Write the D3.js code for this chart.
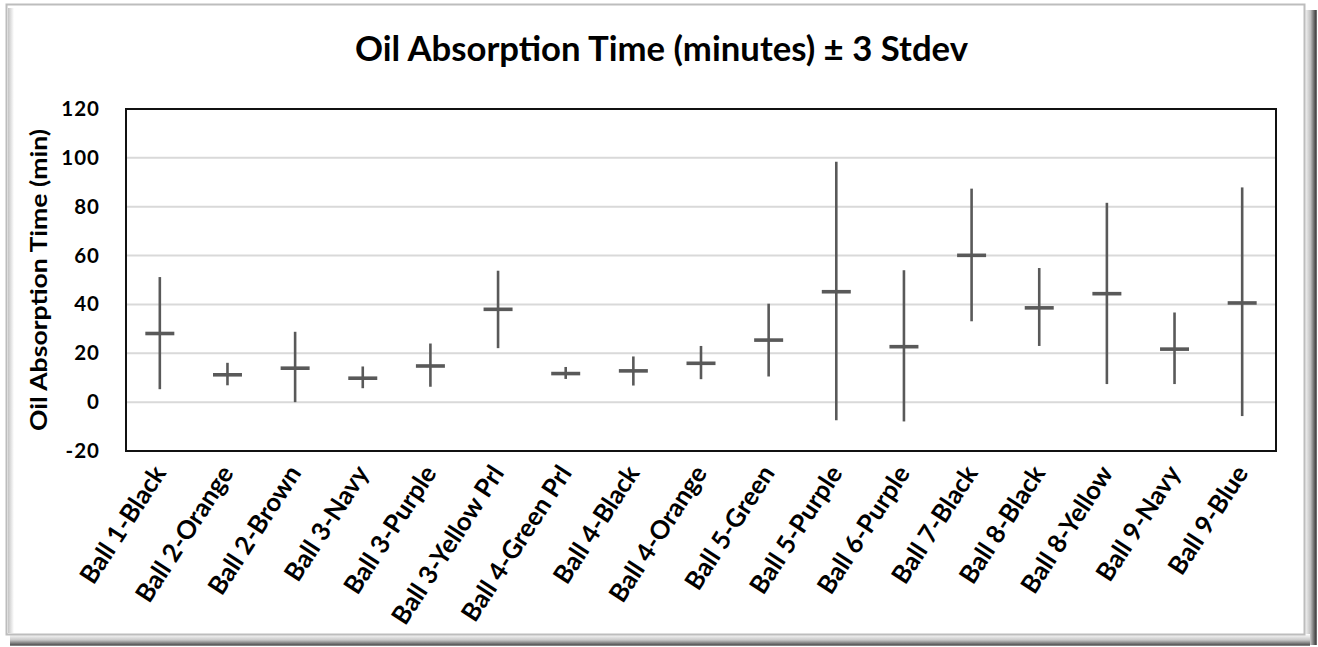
<!DOCTYPE html>
<html>
<head>
<meta charset="utf-8">
<script src="https://cdn.jsdelivr.net/npm/d3@7"></script>
<style>
  html, body { margin: 0; padding: 0; background: #ffffff; }
  svg { display: block; }
  text { font-family: Lato, "Open Sans", sans-serif; font-weight: bold; fill: #000; }
</style>
</head>
<body>
<script>
// ---- data ----
const categories = ["Ball 1-Black", "Ball 2-Orange", "Ball 2-Brown", "Ball 3-Navy", "Ball 3-Purple",
  "Ball 3-Yellow Prl", "Ball 4-Green Prl", "Ball 4-Black", "Ball 4-Orange", "Ball 5-Green",
  "Ball 5-Purple", "Ball 6-Purple", "Ball 7-Black", "Ball 8-Black", "Ball 8-Yellow",
  "Ball 9-Navy", "Ball 9-Blue"];
const meanValues  = [28.1, 11.2, 13.9, 9.8, 14.8, 38.0, 11.7, 12.8, 15.9, 25.4, 45.2, 22.7, 60.1, 38.6, 44.4, 21.7, 40.6];
const upperValues = [51.2, 16.1, 28.8, 14.6, 24.0, 53.8, 14.4, 18.7, 23.0, 40.3, 98.4, 54.0, 87.4, 54.9, 81.6, 36.7, 87.9];
const lowerValues = [5.3, 6.9, 0.0, 5.7, 6.3, 22.1, 9.5, 6.8, 9.4, 10.5, -7.4, -7.9, 33.1, 23.0, 7.4, 7.4, -5.7];
const yTicks = [-20, 0, 20, 40, 60, 80, 100, 120];
const titleText = "Oil Absorption Time (minutes) \u00B1 3 Stdev";
const yAxisTitle = "Oil Absorption Time (min)";

const W = 1318, H = 647;
const plot = { left: 126, right: 1276, top: 109, bottom: 451 };

const svg = d3.select("body").append("svg").attr("width", W).attr("height", H);
const defs = svg.append("defs");

function grad(id, x1, y1, x2, y2, stops) {
  const g = defs.append("linearGradient").attr("id", id)
    .attr("x1", x1).attr("y1", y1).attr("x2", x2).attr("y2", y2);
  stops.forEach(s => g.append("stop").attr("offset", s[0]).attr("stop-color", s[1]));
}
grad("shR", 0, 0, 1, 0, [[0, "#ffffff"], [0.5, "#c0c0c0"], [0.88, "#4a4a4a"], [1, "#808080"]]);
grad("shB", 0, 0, 0, 1, [[0, "#ffffff"], [0.5, "#c8c8c8"], [0.88, "#5e5e5e"], [1, "#959595"]]);
grad("shL", 0, 0, 1, 0, [[0, "#c4c4c4"], [1, "#ffffff"]]);

// outer chart frame with shadow
svg.append("rect").attr("x", 1304).attr("y", 10).attr("width", 13).attr("height", 635).attr("fill", "url(#shR)");
svg.append("rect").attr("x", 10).attr("y", 634).attr("width", 1300).attr("height", 12).attr("fill", "url(#shB)");
svg.append("rect").attr("x", 6.5).attr("y", 4.5).attr("width", 1298).attr("height", 630)
  .attr("fill", "#ffffff").attr("stroke", "#bdbdbd").attr("stroke-width", 2);
svg.append("rect").attr("x", 8).attr("y", 8).attr("width", 6).attr("height", 625).attr("fill", "url(#shL)");

// scales
const x = d3.scaleBand().domain(categories).range([plot.left, plot.right]).padding(0);
const y = d3.scaleLinear().domain([-20, 120]).range([plot.bottom, plot.top]);

// gridlines
svg.append("g").selectAll("line").data(yTicks.filter(t => t > -20 && t < 120)).join("line")
  .attr("x1", plot.left).attr("x2", plot.right)
  .attr("y1", d => y(d)).attr("y2", d => y(d))
  .attr("stroke", "#d9d9d9").attr("stroke-width", 2);

// y axis
const yAxis = svg.append("g").attr("transform", `translate(${plot.left},0)`)
  .call(d3.axisLeft(y).tickValues(yTicks).tickSize(0).tickPadding(26).tickFormat(d => String(d)));
yAxis.select(".domain").remove();
yAxis.selectAll("text").attr("font-size", 20.5).attr("letter-spacing", 1)
  .style("font-family", "Lato, sans-serif").style("font-weight", "bold").attr("fill", "#000");

// x axis labels
const xAxis = svg.append("g").attr("transform", `translate(0,${plot.bottom})`)
  .call(d3.axisBottom(x).tickSize(0).tickPadding(0));
xAxis.select(".domain").remove();
xAxis.selectAll("text")
  .attr("font-size", 25.5)
  .style("font-family", "Lato, sans-serif").style("font-weight", "bold").attr("fill", "#000")
  .attr("text-anchor", "end")
  .attr("dy", 0).attr("y", 0).attr("x", 0)
  .attr("transform", "translate(7,22) rotate(-57)");

// error bars
const bars = svg.append("g");
categories.forEach((c, i) => {
  const cx = x(c) + x.bandwidth() / 2;
  bars.append("line").attr("x1", cx).attr("x2", cx)
    .attr("y1", y(upperValues[i])).attr("y2", y(lowerValues[i]))
    .attr("stroke", "#595959").attr("stroke-width", 2.6);
  bars.append("line").attr("x1", cx - 14.5).attr("x2", cx + 14.5)
    .attr("y1", y(meanValues[i])).attr("y2", y(meanValues[i]))
    .attr("stroke", "#595959").attr("stroke-width", 3.6);
});

// plot border
svg.append("rect").attr("x", plot.left).attr("y", plot.top)
  .attr("width", plot.right - plot.left).attr("height", plot.bottom - plot.top)
  .attr("fill", "none").attr("stroke", "#111").attr("stroke-width", 2);

// title
svg.append("text").attr("x", 661.5).attr("y", 61).attr("text-anchor", "middle")
  .attr("font-size", 35).attr("textLength", 613).attr("lengthAdjust", "spacingAndGlyphs")
  .text(titleText);

// y axis title
svg.append("text").attr("transform", "translate(47,280) rotate(-90)").attr("text-anchor", "middle")
  .attr("font-size", 23).attr("textLength", 302).attr("lengthAdjust", "spacingAndGlyphs")
  .text(yAxisTitle);
</script>
</body>
</html>
